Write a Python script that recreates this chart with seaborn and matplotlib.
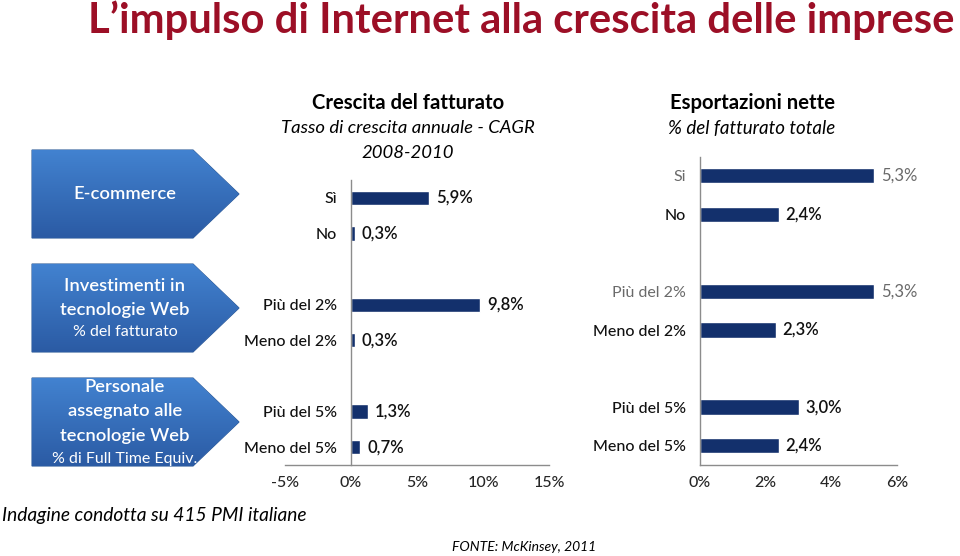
import numpy as np
import pandas as pd
import matplotlib.pyplot as plt
import seaborn as sns
from matplotlib.patches import Polygon
from matplotlib.colors import LinearSegmentedColormap

sns.set_theme(style='white')
plt.rcParams['font.family'] = ['Lato', 'DejaVu Sans']

# ---------------- data ----------------
slots = ['Sì', 'No', 'gap1', 'Più del 2%', 'Meno del 2%', 'gap2', 'Più del 5%', 'Meno del 5%']
left_cats = ['Sì', 'No', 'Più del 2%', 'Meno del 2%', 'Più del 5%', 'Meno del 5%']
crescita = [5.9, 0.3, 9.8, 0.3, 1.3, 0.7]
right_names = ['Si', 'No', '', 'Più del 2%', 'Meno del 2%', '', 'Più del 5%', 'Meno del 5%']
esportazioni = [5.3, 2.4, 5.3, 2.3, 3.0, 2.4]
left_xticks = [-5, 0, 5, 10, 15]
right_xticks = [0, 2, 4, 6]

box_texts = [
    [('E-commerce', 'bold')],
    [('Investimenti in', 'bold'), ('tecnologie Web', 'bold'), ('% del fatturato', 'normal')],
    [('Personale', 'bold'), ('assegnato alle', 'bold'), ('tecnologie Web', 'bold'),
     ('% di Full Time Equiv.', 'normal')],
]

navy = '#13306c'
W, H = 960, 556

fig = plt.figure(figsize=(9.6, 5.56), dpi=100)

# overlay for shapes / free text, in pixel coords
ov = fig.add_axes([0, 0, 1, 1], zorder=0)
ov.set_xlim(0, W)
ov.set_ylim(H, 0)
ov.axis('off')

cmap = LinearSegmentedColormap.from_list('box', ['#4282d0', '#2b5ba4'])
grad = np.linspace(0, 1, 100).reshape(-1, 1)
box_tops = [150, 264, 378]
line_y = [[194], [286, 310, 332], [387, 411, 436, 459]]
for top, lines, ys in zip(box_tops, box_texts, line_y):
    bh = 88
    pts = [(32, top), (193, top), (239, top + bh / 2), (193, top + bh), (32, top + bh)]
    poly = Polygon(pts, closed=True, facecolor='none', edgecolor='#2c5a98', lw=0.8)
    ov.add_patch(poly)
    im = ov.imshow(grad, cmap=cmap, extent=(32, 239, top + bh, top), aspect='auto', zorder=1)
    im.set_clip_path(poly)
    for (txt, wt), y in zip(lines, ys):
        fs = 13.2 if wt == 'bold' else 11.5
        ov.text(125, y, txt, color='white', ha='center', va='center', fontsize=fs,
                weight='semibold' if wt == 'bold' else 'normal', zorder=3)

# titles
fig.text(88 / W, 1 - 20 / H, 'L\u2019impulso di Internet alla crescita delle imprese',
         color='#9c0f26', fontsize=30.1, weight='bold', ha='left', va='center')
ov.text(408, 103, 'Crescita del fatturato', ha='center', va='center', fontsize=14.6, weight='bold', color='black')
ov.text(408, 128, 'Tasso di crescita annuale - CAGR', ha='center', va='center', fontsize=13.3, style='italic', color='black')
ov.text(408, 153, '2008-2010', ha='center', va='center', fontsize=13.3, style='italic', color='black')
ov.text(752, 103, 'Esportazioni nette', ha='center', va='center', fontsize=14.6, weight='bold', color='black')
ov.text(752, 128, '% del fatturato totale', ha='center', va='center', fontsize=13.5, style='italic', color='black')
ov.text(2, 515, 'Indagine condotta su 415 PMI italiane', ha='left', va='center', fontsize=13.8, style='italic', color='black')
ov.text(524, 547, 'FONTE: McKinsey, 2011', ha='center', va='center', fontsize=10, style='italic', color='black')

df_left = pd.DataFrame({'cat': left_cats, 'val': crescita})
df_right = pd.DataFrame({'cat': left_cats, 'val': esportazioni})


def fmt(v):
    return f'{v:.1f}%'.replace('.', ',')


def bar_panel(rect, df, xlim, xticks, names, light):
    ax = fig.add_axes(rect, zorder=2)
    ax.set_facecolor('none')
    sns.barplot(data=df, x='val', y='cat', order=slots, orient='h', color=navy,
                width=0.4, saturation=1, ax=ax)
    ax.set_xlim(*xlim)
    ax.set_xlabel('')
    ax.set_ylabel('')
    for s in ['top', 'right']:
        ax.spines[s].set_visible(False)
    ax.spines['left'].set_position(('data', 0))
    for s in ['left', 'bottom']:
        ax.spines[s].set_color('#8c8c8c')
        ax.spines[s].set_linewidth(1)
    ax.set_xticks(xticks)
    ax.set_xticklabels([f'{t}%' for t in xticks], fontsize=11.5, fontweight='medium')
    ax.tick_params(axis='x', which='major', length=4, width=1, color='#8c8c8c', direction='out', pad=4)
    ax.set_yticks(range(len(slots)))
    ax.set_yticklabels(names, fontsize=11.5, fontweight='medium')
    ax.tick_params(axis='y', which='major', length=0, pad=10)
    ax.set_yticks(np.arange(-0.5, len(slots), 1), minor=True)
    ax.tick_params(axis='y', which='minor', length=4, width=1, color='#8c8c8c', direction='out')
    for lab, lt in zip(ax.get_yticklabels(), light):
        lab.set_color('#6a6a6a' if lt else '#111111')
        if lt:
            lab.set_fontweight('normal')
    # value labels
    j = 0
    for i, s in enumerate(slots):
        if s.startswith('gap'):
            continue
        v = df['val'].iloc[j]
        ax.annotate(fmt(v), (v, i), xytext=(5, 0), textcoords='offset points',
                    va='center', ha='left', fontsize=12,
                    color='#6a6a6a' if light[i] else '#111111',
                    fontweight='normal' if light[i] else 'semibold', annotation_clip=False)
        j += 1
    return ax


left_names = [s if not s.startswith('gap') else '' for s in slots]
bar_panel([285 / W, 1 - 465 / H, 264 / W, 285 / H], df_left, (-5, 15), left_xticks,
          left_names, [False] * 8)
bar_panel([700 / W, 1 - 465 / H, 197 / W, 308.5 / H], df_right, (0, 6), right_xticks,
          right_names, [True, False, False, True, False, False, False, False])

fig.savefig('out.png', dpi=100)
